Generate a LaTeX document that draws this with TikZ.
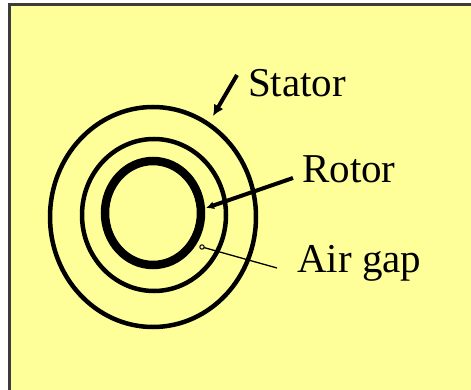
\documentclass[tikz,border=0pt]{standalone}
\usepackage{fontspec}
\setmainfont{Liberation Serif}
\newfontfamily\labelfont{Liberation Serif}
\usetikzlibrary{arrows.meta}
\definecolor{paleyellow}{RGB}{255, 255, 153}
\definecolor{framegray}{RGB}{60, 60, 60}

\begin{document}
\begin{tikzpicture}[
  x=1pt, y=-1pt,
  font=\labelfont\fontsize{41}{45}\selectfont,
  lbl/.style={anchor=base west, inner sep=0pt},
  ring/.style={draw=black, line width=4.5pt},
  arr/.style={-{Latex[length=11pt, width=11pt]}, line width=4pt}
]
\useasboundingbox (0,0) rectangle (471,390);
\fill[white] (0,0) rectangle (471,390);
\fill[paleyellow, draw=framegray, line width=3pt] (9.5,5) rectangle (480,400);

% machine cross-section
\draw[ring] (153,217) ellipse [x radius=103, y radius=110];
\draw[ring] (154,215) ellipse [x radius=72, y radius=76];
\draw[ring, line width=8.5pt] (153,213) ellipse [x radius=48, y radius=52];

% labels
\node[lbl] (stator) at (248,97) {Stator};
\node[lbl] (rotor) at (302,183) {Rotor};
\node[lbl] (gap) at (297,272) {Air gap};

\coordinate (statorpt) at (213,116);
\coordinate (rotorpt) at (206,208);
\coordinate (gappt) at (202,247);

\draw[arr] (237,75) -- (statorpt);
\draw[arr, -{Latex[length=8pt, width=8pt]}] (293,178) -- (rotorpt);
\draw[line width=1.3pt] (277,268) -- (gappt);
\draw[line width=1pt, fill=paleyellow] (gappt) circle (2.2);
\end{tikzpicture}
\end{document}
